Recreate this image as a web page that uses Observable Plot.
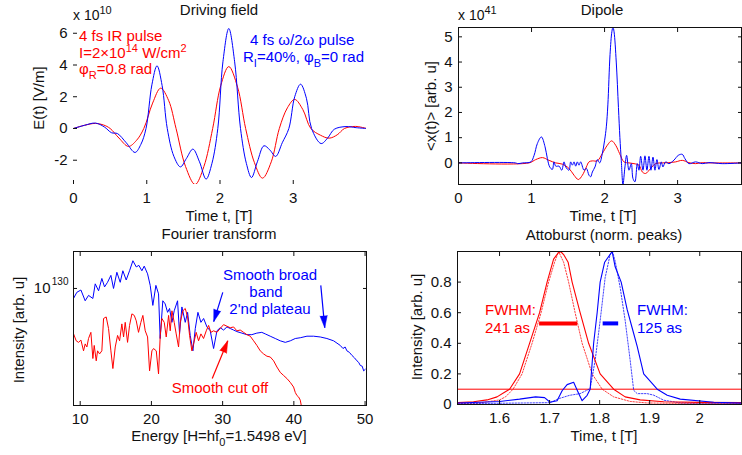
<!DOCTYPE html>
<html><head><meta charset="utf-8">
<script src="https://cdn.jsdelivr.net/npm/d3@7"></script>
<script src="https://cdn.jsdelivr.net/npm/@observablehq/plot@0.6"></script>
<style>
body{margin:0;background:#fff;}
#wrap{position:relative;width:742px;height:455px;overflow:hidden;background:#fff;}
#wrap svg{position:absolute;left:0;top:0;}
</style></head>
<body><div id="wrap"></div>
<script>
// ---------- Panel 1: Driving field (E in 1e10 V/m) ----------
const fieldRedT = [0,0.15,0.30,0.41,0.50,0.62,0.75,0.86,0.96,1.08,1.19,1.30,1.40,1.53,1.66,1.78,1.90,2.01,2.12,2.24,2.35,2.47,2.58,2.70,2.81,2.92,3.02,3.13,3.24,3.37,3.49,3.60,3.70,3.85,4.0];
const fieldRedE = [0,0.2,0.32,0.22,0,-0.6,-1.13,-0.75,0,1.6,2.54,1.75,0,-2.4,-3.53,-2.4,0,2.7,3.9,2.6,0,-2.15,-3.13,-2.1,0,1.3,1.83,1.2,0,-0.42,-0.61,-0.4,0,0.13,0];
const fieldBlueT = [0,0.15,0.30,0.42,0.52,0.60,0.72,0.84,0.92,0.99,1.07,1.14,1.21,1.28,1.37,1.46,1.54,1.63,1.72,1.81,1.89,1.97,2.04,2.12,2.20,2.28,2.36,2.43,2.51,2.60,2.68,2.76,2.85,2.94,3.02,3.10,3.18,3.25,3.38,3.47,3.56,3.72,3.86,4.0];
const fieldBlueE = [0,0.2,0.34,0.1,-0.27,-0.32,-0.9,-1.51,-1.0,0,2.75,3.95,2.7,0,-1.75,-2.42,-1.9,-1.30,-2.1,-3.19,-2.2,0,4.2,6.30,4.2,0,-2.2,-3.09,-2.1,-1.09,-1.35,-1.76,-0.9,0,2.0,2.79,1.9,0,-0.95,-0.6,-0.05,0.12,0.05,0];
const fieldXTicks = [0,1,2,3];
const fieldYTicks = [-2,0,2,4,6];

// ---------- Panel 2: Dipole (1e41 arb. u) ----------
const dipRedT = [0,0.966,1.057,1.149,1.24,1.331,1.422,1.513,1.582,1.641,1.696,1.751,1.787,1.833,1.901,1.969,2.038,2.097,2.152,2.206,2.266,2.334,2.403,2.471,2.517,2.562,2.631,2.699,2.79,2.881,2.973,3.064,3.155,3.246,3.337,3.429,3.875];
const dipRedV = [0,0,0.13,0.21,0.1,0,-0.05,-0.22,-0.49,-0.66,-0.49,-0.16,0.04,0.08,0.08,0.37,0.7,0.874,0.7,0.37,0.04,0,-0.03,-0.09,-0.36,-0.42,-0.22,-0.03,0,0.01,0.04,0.1,0.01,-0.03,0.01,0,0];
const dipBlueT = [0,0.78,0.81,0.88,0.99,1.035,1.08,1.135,1.185,1.217,1.249,1.285,1.308,1.331,1.377,1.413,1.445,1.468,1.513,1.536,1.559,1.582,1.605,1.627,1.65,1.673,1.719,1.751,1.787,1.81,1.833,1.869,1.901,1.933,1.969,2.001,2.024,2.045,2.075,2.10,2.115,2.13,2.16,2.19,2.21,2.229,2.252,2.279,2.302,2.334,2.366,2.389,2.416,2.448,2.471,2.494,2.526,2.553,2.58,2.608,2.635,2.663,2.69,2.717,2.745,2.777,2.799,2.836,2.881,2.95,3.009,3.064,3.1,3.155,3.246,3.337,3.429,3.611,3.875];
const dipBlueV = [0,0,-0.03,0,0.04,0.3,0.77,1.03,0.64,0.17,-0.16,-0.26,0.04,-0.13,-0.13,-0.29,0.04,-0.16,-0.29,0.04,-0.09,0.04,-0.13,0.04,-0.09,0.04,-0.29,-0.22,-0.49,-0.55,-0.36,-0.16,0.13,0,0.37,0.9,1.43,2.3,4.3,5.2,5.39,5.2,4.0,2.2,1.0,0.1,-0.86,-0.16,0.3,-0.29,-0.03,-0.62,-0.75,-0.03,-0.29,0.26,-0.29,0.28,-0.29,0.26,-0.29,0.23,-0.29,0.13,-0.26,0.04,-0.16,0.04,-0.03,0.11,0.3,0.34,0.17,-0.03,0.04,-0.03,0.01,-0.03,0];
const dipXTicks = [0,1,2,3];
const dipYTicks = [0,1,2,3,4,5];

// ---------- Panel 3: Fourier transform (log10 intensity) ----------
const ftBlueH = [9.06,9.53,10.1,10.7,11.17,11.78,12.11,12.58,13.04,13.42,13.84,14.31,14.68,15.15,15.62,15.99,16.46,16.93,17.4,17.87,18.24,18.66,18.99,19.46,19.83,20.2,20.63,21.0,21.23,21.6,21.93,22.27,22.55,22.88,23.2,23.67,23.95,24.28,24.75,25.08,25.45,25.83,26.16,26.53,26.95,27.33,27.8,28.26,28.73,29.2,29.66,30.13,30.6,31.07,31.54,32.0,32.7,33.4,34.1,34.8,35.5,35.98,36.68,37.39,38.09,38.8,39.5,40.2,40.9,41.84,42.77,43.71,44.64,45.58,46.52,46.9,47.2,47.45,47.8,48.16,48.5,48.86,49.1,49.33,49.6,49.8,50.03];
const ftBlueLog = [129.87,129.95,129.98,129.84,129.91,129.87,130.06,129.97,130.13,130.02,130.08,130.17,130.0,130.21,130.08,130.23,130.11,130.23,130.36,130.28,130.30,130.23,130.29,130.19,130.04,129.78,130.04,129.93,129.35,129.84,129.80,129.69,129.74,129.56,129.71,129.84,129.41,129.76,129.56,129.69,129.39,129.19,129.48,129.69,129.56,129.61,129.50,129.45,129.22,129.45,129.49,129.46,129.50,129.48,129.46,129.44,129.42,129.40,129.40,129.42,129.43,129.41,129.38,129.35,129.32,129.30,129.32,129.35,129.36,129.38,129.38,129.37,129.35,129.32,129.26,129.22,129.24,129.19,129.17,129.13,129.10,129.06,129.04,129.0,128.99,128.93,128.95];
const ftRedH = [9.07,9.44,9.77,10.1,10.47,10.7,10.94,11.17,11.5,11.78,11.97,12.25,12.44,12.72,13.04,13.28,13.65,13.98,14.31,14.59,14.92,15.25,15.53,15.85,16.09,16.32,16.65,16.93,17.26,17.59,17.87,18.19,18.52,18.8,19.13,19.46,19.74,20.07,20.3,20.68,21.0,21.24,21.47,21.8,22.08,22.41,22.64,22.88,23.2,23.48,23.81,24.05,24.42,24.75,25.08,25.36,25.68,25.92,26.29,26.62,26.95,27.32,27.7,28.03,28.35,28.73,29.2,29.66,30.13,30.6,31.07,31.54,32.0,32.47,32.94,33.41,33.88,34.35,34.81,35.28,35.75,36.22,36.69,37.16,37.62,38.09,38.56,39.03,39.5,39.96,40.2,40.43,40.67,40.9,41.13];
const ftRedLog = [129.41,129.32,129.30,129.33,129.19,129.28,129.24,129.35,129.43,129.09,129.26,129.06,129.19,129.15,129.19,129.61,129.63,129.48,129.19,128.96,129.24,129.39,129.32,129.54,129.37,129.56,129.30,129.52,129.67,129.65,129.58,129.43,129.56,129.65,129.45,129.37,128.93,129.19,129.22,129.19,128.89,129.39,129.61,129.56,129.37,129.65,129.45,129.71,129.56,129.41,129.24,129.56,129.71,129.74,129.63,129.39,129.19,129.28,129.43,129.32,129.41,129.35,129.45,129.52,129.43,129.45,129.43,129.48,129.53,129.51,129.49,129.50,129.45,129.46,129.43,129.40,129.38,129.32,129.26,129.19,129.15,129.12,129.11,129.06,128.98,128.91,128.87,128.83,128.78,128.72,128.65,128.61,128.59,128.55,128.44];
const ftXTicks = [10,20,30,40,50];
const ftYTickLog = [130];
// annotation arrows: [startH, startLog, tipH, tipLog, colour]
const ftArrows = [
  [30.02,129.95,28.75,129.57,"#0000ff"],
  [43.78,130.04,44.34,129.49,"#0000ff"],
  [28.54,128.83,30.72,129.32,"#ff0000"]
];

// ---------- Panel 4: Attoburst (normalised) ----------
const atRedT = [1.517,1.548,1.575,1.595,1.61,1.62,1.64,1.66,1.68,1.695,1.708,1.717,1.722,1.728,1.737,1.745,1.761,1.778,1.801,1.828,1.851,1.881,1.928,2.0,2.085];
const atRedV = [0.012,0.018,0.03,0.05,0.08,0.1,0.2,0.4,0.6,0.8,0.95,0.99,1.0,0.98,0.93,0.8,0.6,0.4,0.2,0.1,0.05,0.03,0.018,0.014,0.012];
const atRedDotT = [1.517,1.56,1.60,1.612,1.627,1.645,1.665,1.683,1.698,1.71,1.718,1.728,1.738,1.751,1.765,1.785,1.805,1.828,1.861,1.895,2.0,2.085];
const atRedDotV = [0.005,0.01,0.03,0.05,0.1,0.2,0.4,0.6,0.8,0.93,1.0,0.93,0.8,0.6,0.4,0.2,0.1,0.05,0.02,0.01,0.006,0.005];
const atBlueT = [1.517,1.56,1.60,1.64,1.672,1.69,1.701,1.715,1.725,1.735,1.748,1.757,1.765,1.775,1.781,1.788,1.795,1.801,1.81,1.825,1.831,1.843,1.855,1.865,1.875,1.888,1.915,1.935,1.961,2.028,2.085];
const atBlueV = [0.01,0.015,0.02,0.035,0.05,0.045,0.015,0.025,0.09,0.13,0.145,0.08,0.025,0.06,0.1,0.4,0.6,0.8,0.93,1.0,0.9,0.8,0.62,0.5,0.38,0.2,0.1,0.06,0.035,0.015,0.01];
const atBlueDotT = [1.517,1.65,1.70,1.72,1.74,1.761,1.781,1.791,1.801,1.811,1.821,1.826,1.831,1.841,1.851,1.861,1.868,1.875,1.895,1.908,1.928,1.961,2.085];
const atBlueDotV = [0.005,0.01,0.012,0.04,0.06,0.071,0.104,0.288,0.548,0.829,0.981,0.996,0.937,0.764,0.548,0.288,0.093,0.071,0.071,0.061,0.028,0.011,0.007];
const atThreshold = [0.1];
// FWHM bars: [start, end, level, colour]
const atFwhm = [[1.68,1.756,0.53,"#ff0000"],[1.807,1.838,0.53,"#0000ff"]];
const atXTicks = [1.6,1.7,1.8,1.9,2.0];
const atYTicks = [0,0.2,0.4,0.6,0.8];

// ---------- helpers ----------
const W = 742, H = 455;
const RED = "#ff0000", BLUE = "#0000ff";
const FONT = "'Liberation Sans', Arial, Helvetica, sans-serif";
const STYLE = {background: "transparent", fontFamily: FONT, fontSize: "15px", color: "#111", overflow: "visible"};
const pts = (xs, ys) => xs.map((x, i) => ({x, y: ys[i]}));
const wrap = document.getElementById("wrap");
const fmt = d => String(+d.toFixed(2));

function axesBox(xTicks, yTicks, xFmt = fmt, yFmt = fmt) {
  return [
    Plot.frame({stroke: "#111"}),
    Plot.axisX({ticks: xTicks, tickFormat: xFmt, tickSize: -4, tickPadding: 12, label: null}),
    Plot.axisX({ticks: xTicks, anchor: "top", tickFormat: () => "", tickSize: -4, label: null}),
    Plot.axisY({ticks: yTicks, tickFormat: yFmt, tickSize: -4, tickPadding: 10, label: null}),
    Plot.axisY({ticks: yTicks, anchor: "right", tickFormat: () => "", tickSize: -4, label: null})
  ];
}

// Panel 1
wrap.appendChild(Plot.plot({
  width: W, height: H, marginLeft: 73, marginRight: 376, marginTop: 28, marginBottom: 271,
  style: STYLE,
  x: {domain: [0, 4]}, y: {domain: [-3.53, 6.30]},
  marks: [
    Plot.line(pts(fieldRedT, fieldRedE), {x: "x", y: "y", stroke: RED, strokeWidth: 1, curve: "catmull-rom", clip: true}),
    Plot.line(pts(fieldBlueT, fieldBlueE), {x: "x", y: "y", stroke: BLUE, strokeWidth: 1, curve: "catmull-rom", clip: true}),
    Plot.axisX({ticks: fieldXTicks, tickFormat: fmt, tickSize: -4, tickPadding: 12, label: null, line: true}),
    Plot.axisY({ticks: fieldYTicks, tickFormat: fmt, tickSize: -4, tickPadding: 10, label: null, line: true})
  ]
}));

// Panel 2
wrap.appendChild(Plot.plot({
  width: W, height: H, marginLeft: 458, marginRight: 1, marginTop: 27, marginBottom: 271,
  style: STYLE,
  x: {domain: [0, 3.875]}, y: {domain: [-0.857, 5.37]},
  marks: [
    Plot.line(pts(dipRedT, dipRedV), {x: "x", y: "y", stroke: RED, strokeWidth: 1, curve: "catmull-rom", clip: true}),
    Plot.line(pts(dipBlueT, dipBlueV), {x: "x", y: "y", stroke: BLUE, strokeWidth: 1, curve: "catmull-rom", clip: true}),
    ...axesBox(dipXTicks, dipYTicks)
  ]
}));

// Panel 3
const ftArrowData = ftArrows.map(([a, b, c, d, col]) => ({x1: a, y1: 10 ** b, x2: c, y2: 10 ** d, col}));
const ftOpts = {
  width: W, height: H, marginLeft: 73, marginRight: 376, marginTop: 251, marginBottom: 50,
  style: STYLE,
  x: {domain: [9.06, 50.2]}, y: {type: "log", domain: [10 ** 128.48, 10 ** 130.48]}
};
// screen-space direction of each arrow, taken from the library's own scales
const ftScaleProbe = Plot.plot({...ftOpts, marks: [Plot.frame()]});
const sx = ftScaleProbe.scale("x"), sy = ftScaleProbe.scale("y");
ftArrowData.forEach(d => {
  const dx = sx.apply(d.x2) - sx.apply(d.x1), dy = sy.apply(d.y2) - sy.apply(d.y1);
  d.angle = Math.atan2(dx, -dy) * 180 / Math.PI;
});
wrap.appendChild(Plot.plot({
  ...ftOpts,
  marks: [
    Plot.line(ftBlueH.map((h, i) => ({x: h, y: 10 ** ftBlueLog[i]})), {x: "x", y: "y", stroke: BLUE, strokeWidth: 1, clip: true}),
    Plot.line(ftRedH.map((h, i) => ({x: h, y: 10 ** ftRedLog[i]})), {x: "x", y: "y", stroke: RED, strokeWidth: 1, clip: true}),
    Plot.link(ftArrowData, {x1: "x1", y1: "y1", x2: "x2", y2: "y2", stroke: "col", strokeWidth: 1.2}),
    Plot.vector(ftArrowData, {x: "x2", y: "y2", rotate: "angle", length: 12, r: 3.6, shape: "spike", anchor: "end", fill: "col", stroke: "col", strokeWidth: 0.5}),
    Plot.frame({stroke: "#111"}),
    Plot.axisX({ticks: ftXTicks, tickFormat: fmt, tickSize: -4, tickPadding: 12, label: null}),
    Plot.axisX({ticks: ftXTicks, anchor: "top", tickFormat: () => "", tickSize: -4, label: null}),
    Plot.axisY({ticks: ftYTickLog.map(e => 10 ** e), tickFormat: () => "10", tickSize: -4, tickPadding: 27, label: null}),
    Plot.axisY({ticks: ftYTickLog.map(e => 10 ** e), tickFormat: (d) => String(Math.round(Math.log10(d))), tickSize: 0, tickPadding: 5, fontSize: 10, dy: -7, label: null}),
    Plot.axisY({ticks: ftYTickLog.map(e => 10 ** e), anchor: "right", tickFormat: () => "", tickSize: -4, label: null})
  ]
}));

// Panel 4
wrap.appendChild(Plot.plot({
  width: W, height: H, marginLeft: 457, marginRight: 1, marginTop: 251, marginBottom: 51,
  style: STYLE,
  x: {domain: [1.516, 2.0834]}, y: {domain: [0, 1]},
  marks: [
    Plot.ruleY(atThreshold, {stroke: RED, strokeWidth: 1}),
    Plot.line(pts(atRedDotT, atRedDotV), {x: "x", y: "y", stroke: RED, strokeWidth: 1, strokeDasharray: "1.5,1.5", strokeOpacity: 0.75, clip: true}),
    Plot.line(pts(atBlueDotT, atBlueDotV), {x: "x", y: "y", stroke: BLUE, strokeWidth: 1, strokeDasharray: "1.5,1.5", strokeOpacity: 0.75, clip: true}),
    Plot.line(pts(atRedT, atRedV), {x: "x", y: "y", stroke: RED, strokeWidth: 1.1, clip: true}),
    Plot.line(pts(atBlueT, atBlueV), {x: "x", y: "y", stroke: BLUE, strokeWidth: 1.1, clip: true}),
    Plot.ruleY(atFwhm, {x1: d => d[0], x2: d => d[1], y: d => d[2], stroke: d => d[3], strokeWidth: 4}),
    ...axesBox(atXTicks, atYTicks)
  ]
}));

// ---------- text layer ----------
const svg = d3.select(wrap).append("svg").attr("width", W).attr("height", H)
  .style("font-family", FONT).style("font-size", "15px").attr("fill", "#111");

function txt(x, y, parts, {anchor = "start", color = "#111", rotate = false, size = 15} = {}) {
  const t = svg.append("text").attr("text-anchor", anchor).attr("fill", color).style("font-size", size + "px");
  if (rotate) t.attr("transform", `translate(${x},${y}) rotate(-90)`);
  else t.attr("x", x).attr("y", y);
  let shift = 0;
  for (const p of [].concat(parts)) {
    const [s, kind] = Array.isArray(p) ? p : [p, ""];
    const target = kind === "sup" ? -6 : kind === "sub" ? 5 : 0;
    t.append("tspan").attr("dy", target - shift).style("font-size", kind ? "11px" : size + "px").text(s);
    shift = target;
  }
  return t;
}

// Panel 1 texts
txt(219, 15, "Driving field", {anchor: "middle"});
txt(73, 19.5, ["x 10", ["10", "sup"]], {size: 14});
txt(44, 98, "E(t) [V/m]", {anchor: "middle", rotate: true});
txt(219, 221, "Time t, [T]", {anchor: "middle"});
txt(79, 40.5, "4 fs IR pulse", {color: RED});
txt(79, 58, ["I=2×10", ["14", "sup"], " W/cm", ["2", "sup"]], {color: RED});
txt(79, 73.5, ["φ", ["R", "sub"], "=0.8 rad"], {color: RED});
txt(250, 45, "4 fs ω/2ω pulse", {color: BLUE});
txt(243, 62, ["R", ["I", "sub"], "=40%, φ", ["B", "sub"], "=0 rad"], {color: BLUE});

// Panel 2 texts
txt(602, 15, "Dipole", {anchor: "middle"});
txt(458, 19.5, ["x 10", ["41", "sup"]], {size: 14});
txt(436, 106, "<x(t)> [arb. u]", {anchor: "middle", rotate: true});
txt(603, 221, "Time, t [T]", {anchor: "middle"});

// Panel 3 texts
txt(219, 239, "Fourier transform", {anchor: "middle"});
txt(24, 330, "Intensity [arb. u]", {anchor: "middle", rotate: true});
txt(219, 441, ["Energy [H=hf", ["0", "sub"], "=1.5498 eV]"], {anchor: "middle"});
txt(270, 280, "Smooth broad", {anchor: "middle", color: BLUE});
txt(266, 297, "band", {anchor: "middle", color: BLUE});
txt(270, 313.5, "2'nd plateau", {anchor: "middle", color: BLUE});
txt(220, 393, "Smooth cut off", {anchor: "middle", color: RED});

// Panel 4 texts
txt(604, 240, "Attoburst (norm. peaks)", {anchor: "middle"});
txt(422, 327, "Intensity [arb. u]", {anchor: "middle", rotate: true});
txt(604, 441, "Time, t [T]", {anchor: "middle"});
txt(485, 315, "FWHM:", {color: RED});
txt(485, 333, "241 as", {color: RED});
txt(637, 315, "FWHM:", {color: BLUE});
txt(637, 333, "125 as", {color: BLUE});
</script>
</body></html>
